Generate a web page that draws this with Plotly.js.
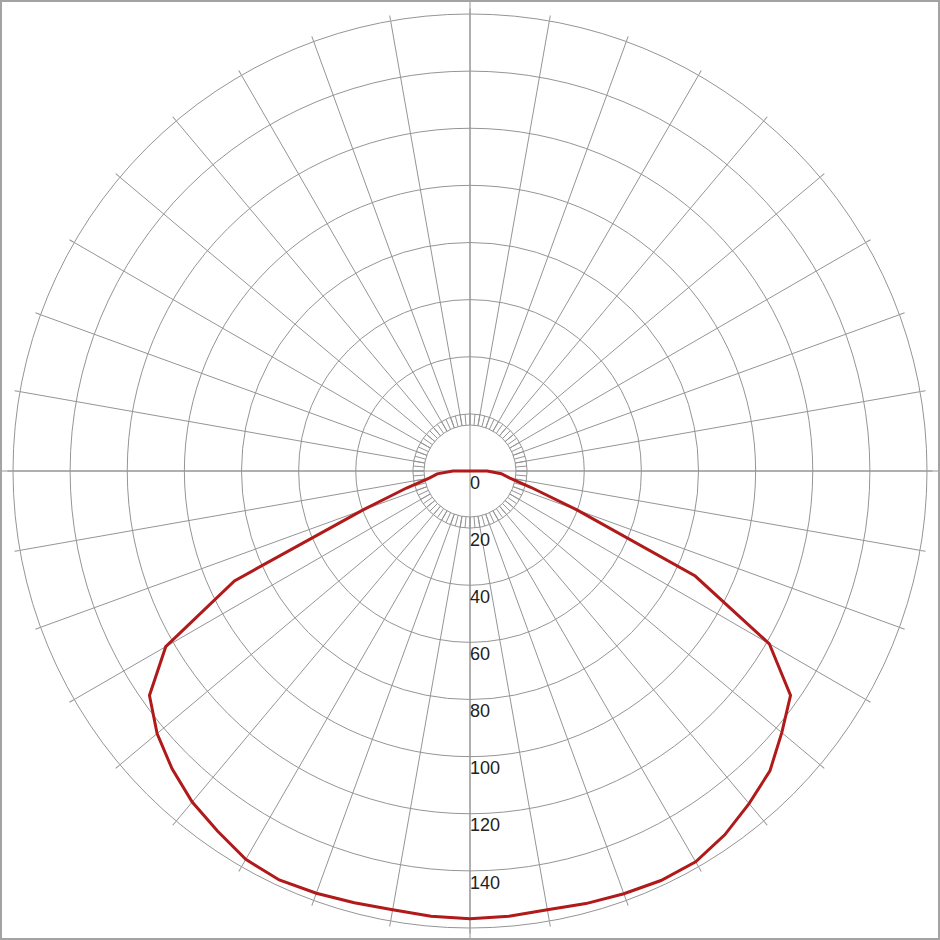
<!DOCTYPE html>
<html>
<head>
<meta charset="utf-8">
<script src="https://cdn.plot.ly/plotly-3.0.1.min.js"></script>
<style>
html,body{margin:0;padding:0;background:#fff;}
#chart{width:940px;height:940px;}
</style>
</head>
<body>
<div id="chart"></div>
<script>
// Angle in degrees: 0 = straight down (nadir), negative = left half, positive = right half
const thetaDeg = [
  -180,-175,-170,-165,-160,-155,-150,-145,-140,-135,-130,-125,-120,-115,-110,-105,-100,-95,
  -90,-85,-80,-75,-70,-65,-60,-55,-50,-45,-40,-35,-30,-25,-20,-15,-10,-5,
  0,
  5,10,15,20,25,30,35,40,45,50,55,60,65,70,75,80,85,90,
  95,100,105,110,115,120,125,130,135,140,145,150,155,160,165,170,175,180
];
const intensity = [
  0,0,0,0,0,0,0,0,0,0,0,0,0,0,0,0,0,0,
  6,11.5,14.5,23,40,91,123,137,143,147.5,151.3,154,157,158,157.3,156.5,156,156.5,
  156.8,
  156.5,156,156.8,157.5,158.2,158,155.5,152,148.5,142.5,137,121,87,40,22,14,11,6,
  0,0,0,0,0,0,0,0,0,0,0,0,0,0,0,0,0,0
];
const ringValues = [16.1, 20, 40, 60, 80, 100, 120, 140];
const labelValues = [0, 20, 40, 60, 80, 100, 120, 140, 160];
const labelText = ['0','20','40','60','80','100','120','140','160'];
const radialMax = 160;

const gridCol = '#959595';
const W = 940, H = 940;
const mL = 13, mR = 13, mT = 14, mB = 12;
const pw = W - mL - mR, ph = H - mT - mB;
const Rpx = pw / 2;           // outer radius in px
const innerPx = 46;           // inner ring start
const ringPx = Rpx * 20 / radialMax;

function px2paperX(p){ return (p - mL) / pw; }
function px2paperY(p){ return (H - mB - p) / ph; }

const cx = mL + pw/2, cy = mT + ph/2;
const smallHalfX = ringPx / pw, smallHalfY = ringPx / ph;

const traces = [
  {type:'scatterpolar', subplot:'polar', r:[], theta:[], mode:'lines', showlegend:false, hoverinfo:'skip'},
  {type:'scatterpolar', subplot:'polar2', r:[], theta:[], mode:'lines', showlegend:false, hoverinfo:'skip'},
  {type:'scatterpolar', subplot:'polar3', r:intensity, theta:thetaDeg, mode:'lines',
   line:{color:'#b01a1a', width:3}, showlegend:false, hoverinfo:'skip', cliponaxis:false},
  {type:'scatterpolar', subplot:'polar3', r:labelValues.map(v => v + 4.6), theta:labelValues.map(() => 0),
   mode:'text', text:labelText, textposition:'middle right',
   textfont:{family:'Liberation Sans, Arial, sans-serif', size:18, color:'#222'},
   showlegend:false, hoverinfo:'skip', cliponaxis:false}
];

const hiddenRadial = {visible:false, range:[0,1]};
const layout = {
  width:W, height:H,
  margin:{l:mL, r:mR, t:mT, b:mB, pad:0},
  paper_bgcolor:'#fff', plot_bgcolor:'#fff',
  showlegend:false,
  polar:{
    domain:{x:[0.5 - smallHalfX, 0.5 + smallHalfX], y:[0.5 - smallHalfY, 0.5 + smallHalfY]},
    bgcolor:'rgba(0,0,0,0)',
    hole: innerPx / ringPx,
    radialaxis: hiddenRadial,
    angularaxis:{rotation:-90, direction:'counterclockwise', dtick:5, tick0:0,
      showgrid:true, gridcolor:gridCol, gridwidth:1, showline:false, ticks:'', showticklabels:false}
  },
  polar2:{
    domain:{x:[0,1], y:[0,1]},
    bgcolor:'rgba(0,0,0,0)',
    hole: innerPx / Rpx,
    radialaxis: hiddenRadial,
    angularaxis:{rotation:-90, direction:'counterclockwise', dtick:10, tick0:0,
      showgrid:true, gridcolor:gridCol, gridwidth:1, showline:false,
      ticks:'outside', ticklen:5, tickcolor:gridCol, tickwidth:1, showticklabels:false}
  },
  polar3:{
    domain:{x:[0,1], y:[0,1]},
    bgcolor:'rgba(0,0,0,0)',
    radialaxis:{range:[0, radialMax], tickvals:ringValues, showticklabels:false, ticks:'',
      showline:false, showgrid:true, gridcolor:gridCol, gridwidth:1, angle:-90},
    angularaxis:{rotation:-90, direction:'counterclockwise', showgrid:false,
      showline:true, linecolor:gridCol, linewidth:1, ticks:'', showticklabels:false}
  },
  shapes:[
    {type:'line', xref:'paper', yref:'paper', layer:'below',
     x0:px2paperX(0), x1:px2paperX(W), y0:px2paperY(cy), y1:px2paperY(cy),
     line:{color:gridCol, width:1}},
    {type:'line', xref:'paper', yref:'paper', layer:'below',
     x0:px2paperX(cx), x1:px2paperX(cx), y0:px2paperY(0), y1:px2paperY(H),
     line:{color:gridCol, width:1}},
    {type:'rect', xref:'paper', yref:'paper', layer:'above',
     x0:px2paperX(1), x1:px2paperX(W-1), y0:px2paperY(H-1), y1:px2paperY(1),
     line:{color:'#a3a3a3', width:2}, fillcolor:'rgba(0,0,0,0)'}
  ]
};

Plotly.newPlot('chart', traces, layout, {staticPlot:true, displayModeBar:false});
</script>
</body>
</html>
